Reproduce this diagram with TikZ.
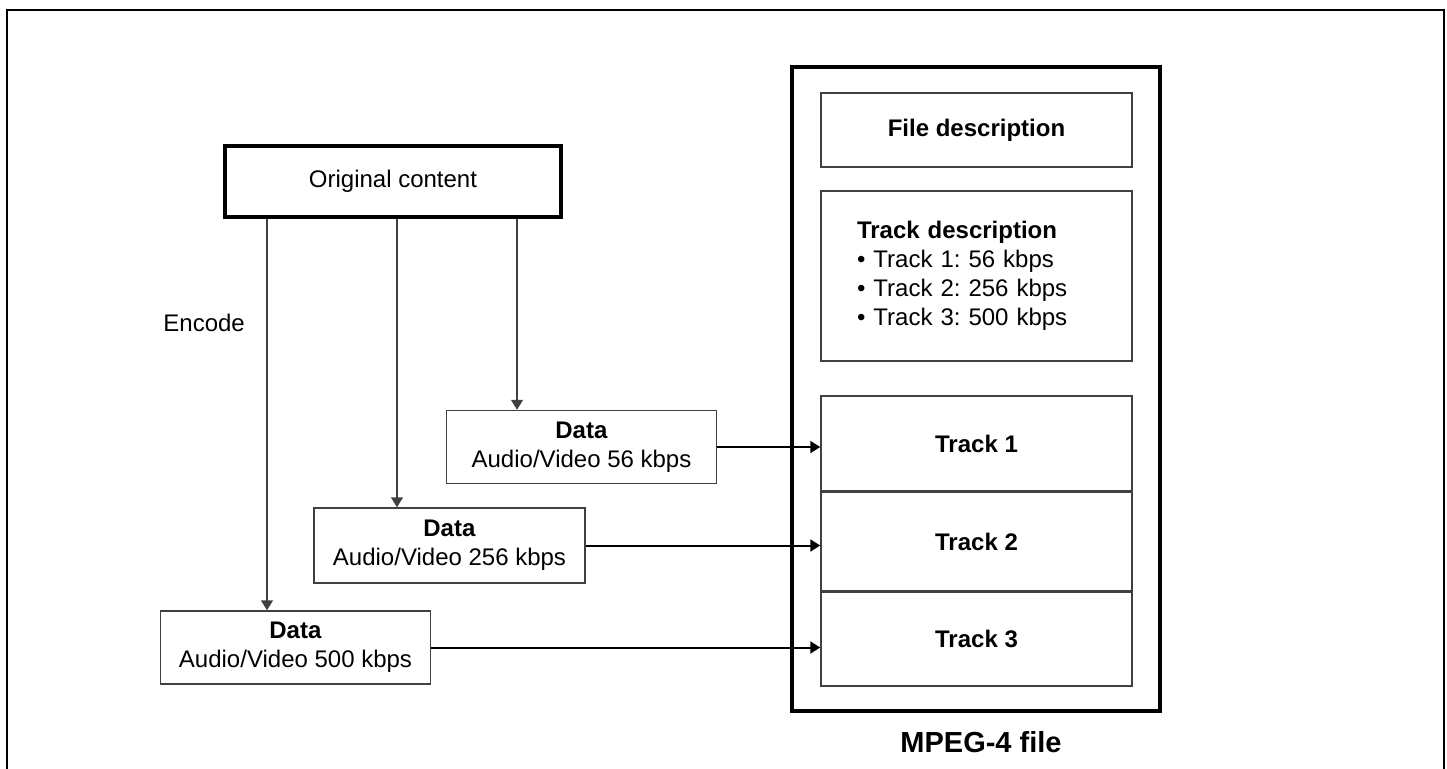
\documentclass[12pt,tikz,border=0pt]{standalone}
\usepackage{fontspec}
\setmainfont{Liberation Sans}
\usepackage{tikz}
\usetikzlibrary{positioning, arrows.meta}
\frenchspacing

\begin{document}
\begin{tikzpicture}[x=0.5pt, y=-0.5pt,
    >={Triangle[length=5pt,width=6pt]},
    box/.style={draw=black!75, line width=0.75pt, inner sep=0pt, align=center},
    databox/.style={box, minimum width=135pt, minimum height=36.5pt},
    trackbox/.style={box, minimum width=155.5pt},
    feed/.style={->, line width=1pt},
    encline/.style={->, draw=black!75, line width=0.75pt}]

  \useasboundingbox (0,0) rectangle (1447,768);
  % Frame
  \draw[line width=1.4pt] (7,775) -- (7,10) -- (1444,10) -- (1444,775);

  % Source and encoded data
  \node[box, draw=black, line width=2pt, minimum width=168pt, minimum height=35.5pt] (orig) at (393,181.5) {Original content};
  \node[databox] (d56) at (581.5,447) {\textbf{Data}\\Audio/Video 56 kbps};
  \node[databox, minimum width=135.5pt, minimum height=37.5pt] (d256) at (449.5,545.5) {\textbf{Data}\\Audio/Video 256 kbps};
  \node[databox] (d500) at (295.5,647.5) {\textbf{Data}\\Audio/Video 500 kbps};
  \node[anchor=west, inner sep=0pt] (enc) at (163,323) {Encode};

  % MPEG-4 file
  \node[draw, line width=2pt, minimum width=184pt, minimum height=322pt] (mp4) at (976,389) {};
  \node[font=\fontsize{14.5}{17}\selectfont\bfseries] (mp4lbl) at (981,742) {MPEG-4 file};
  \node[trackbox, minimum height=37pt, font=\bfseries] (fdesc) at (976.5,130) {File description};
  \node[trackbox, minimum height=85pt, align=left, text width=119.5pt] (tdesc) at (976.5,276) {\textbf{Track description}\\
    • Track 1: 56 kbps\\
    • Track 2: 256 kbps\\
    • Track 3: 500 kbps};
  \node[trackbox, minimum height=47.5pt, font=\bfseries] (t1) at (976.5,443.5) {Track 1};
  \node[trackbox, minimum height=49pt, below=0pt of t1, font=\bfseries] (t2) {Track 2};
  \node[trackbox, minimum height=47pt, below=0pt of t2, font=\bfseries] (t3) {Track 3};

  % Encode arrows
  \foreach \d/\x in {d500/267, d256/397, d56/517}
  {
      \coordinate (x\d) at (\x,0);
      \draw[encline] (orig.south -| x\d) -- (\d.north -| x\d);
  }
  % Data into tracks
  \foreach \d/\t in {d56/t1, d256/t2, d500/t3}
      \draw[feed] (\d.east) -- (\d.east -| \t.west);
\end{tikzpicture}
\end{document}
